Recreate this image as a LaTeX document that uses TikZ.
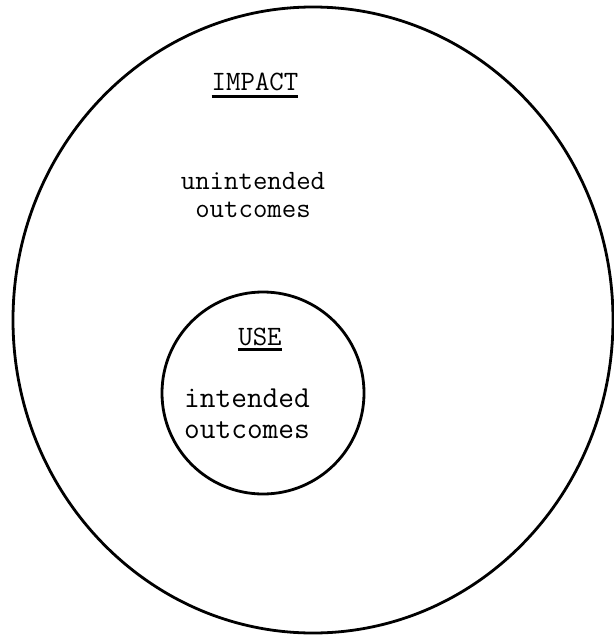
\documentclass[tikz,border=0pt]{standalone}
\usepackage{fontspec}

\begin{document}
\begin{tikzpicture}[x=1pt,y=-1pt,
  ring/.style={line width=2.8pt},
  uline/.style={line width=3pt},
  typed/.style={font=\ttfamily\addfontfeatures{FakeBold=1.2}\fontsize{28}{27.5}\selectfont,align=center,inner sep=0pt},
  bigtyped/.style={typed,font=\ttfamily\addfontfeatures{FakeBold=1.2}\fontsize{30.5}{30.5}\selectfont}]
\useasboundingbox (0,0) rectangle (613,637);
% outer ring and inner ring
\draw[ring] (313,320) ellipse [x radius=300,y radius=313];
\draw[ring] (263,393) circle [radius=101];
% outer labels
\node[typed] (impact) at (255,82) {IMPACT};
\draw[uline] ([yshift=-6pt]impact.base west) -- ([yshift=-6pt]impact.base east);
\node[typed] (unint) at (253,195) {unintended\\outcomes};
% inner labels
\node[typed] (use) at (260,337) {USE};
\draw[uline] ([yshift=-4pt]use.base west) -- ([yshift=-4pt]use.base east);
\node[bigtyped] (int) at (247,414) {intended\\outcomes};
\end{tikzpicture}
\end{document}
